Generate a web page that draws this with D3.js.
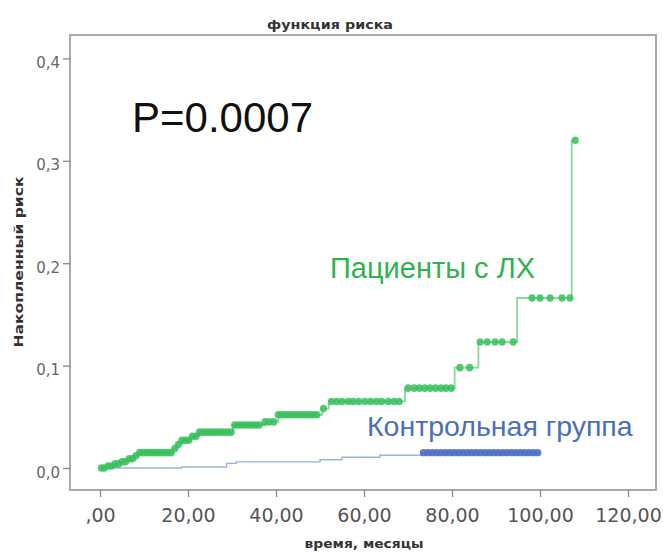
<!DOCTYPE html>
<html>
<head>
<meta charset="utf-8">
<script src="https://cdn.jsdelivr.net/npm/d3@7"></script>
<style>
  html, body { margin: 0; padding: 0; background: #fff; }
  svg { display: block; }
</style>
</head>
<body>
<svg id="chart" width="663" height="552"></svg>
<script>
// Cumulative hazard: step points [time in months, cumulative risk]
const patientSteps = [
  [0, 0.000], [1.5, 0.002], [3, 0.004], [4.5, 0.006], [6, 0.009], [7.5, 0.012],
  [8.7, 0.015], [16.7, 0.019], [17.6, 0.023], [18.6, 0.027], [20.5, 0.031],
  [22.5, 0.035], [30.2, 0.042], [37.5, 0.045], [40.5, 0.052], [50.5, 0.058],
  [52.0, 0.065], [69.3, 0.078], [80.6, 0.098], [86.0, 0.123], [94.8, 0.166],
  [107.2, 0.320], [108.0, 0.320]
];
const controlSteps = [
  [0, 0.000], [18.6, 0.001], [28.8, 0.0045], [31.0, 0.006], [50.0, 0.008],
  [55.0, 0.0105], [63.6, 0.0125], [73.0, 0.015], [99.8, 0.015]
];

// Censored observation times
const patientCensored = [
  0.3, 1.0, 1.8, 2.6, 3.4, 4.2, 5.0, 5.8, 6.6, 7.4, 8.2, 9.0, 9.8, 10.6, 11.4,
  12.2, 13.0, 13.8, 14.6, 15.4, 16.2, 17.0, 17.8, 18.6, 19.4, 20.2, 21.0, 21.8,
  22.6, 23.4, 24.2, 25.0, 25.8, 26.6, 27.4, 28.2, 29.0, 29.8, 30.6, 31.4, 32.2,
  33.0, 33.8, 34.6, 35.4, 36.2, 37.5, 38.5, 39.5, 40.5, 41.3, 42.1, 42.9, 43.7,
  44.5, 45.3, 46.1, 46.9, 47.7, 48.5, 49.3, 50.8, 52.6, 53.8, 55.0, 56.4, 57.5,
  58.8, 60.2, 61.5, 62.8, 64.0, 65.5, 66.8, 68.0, 70.0, 71.4, 72.6, 73.8, 75.0,
  76.3, 77.5, 78.6, 79.8, 81.8, 84.0, 86.4, 88.0, 89.8, 91.4, 93.9, 98.2, 100.0,
  102.3, 105.0, 106.8, 108.0
];
const controlCensored = [
  73.5, 74.5, 75.5, 76.5, 77.5, 78.5, 79.5, 80.5, 81.5, 82.5, 83.5, 84.5, 85.5,
  86.5, 87.5, 88.5, 89.5, 90.5, 91.5, 92.5, 93.5, 94.5, 95.5, 96.5, 97.5, 98.5, 99.5
];

const xTicks = [0, 20, 40, 60, 80, 100, 120];
const yTicks = [0, 0.1, 0.2, 0.3, 0.4];

const chartTitle = "функция риска";
const xTitle = "время, месяцы";
const yTitle = "Накопленный риск";
const pLabel = "P=0.0007";
const patientLabel = "Пациенты с ЛХ";
const controlLabel = "Контрольная группа";

const svg = d3.select("#chart");
const frame = { left: 70, top: 35, right: 656, bottom: 490 };

const x = d3.scaleLinear().domain([0, 120]).range([100, 628]);
const y = d3.scaleLinear().domain([0, 0.4]).range([468, 58.4]);

const fmtX = d => d === 0 ? ",00" : d3.format(".2f")(d).replace(".", ",");
const fmtY = d => d3.format(".1f")(d).replace(".", ",");

// Plot frame
svg.append("rect")
  .attr("x", frame.left).attr("y", frame.top)
  .attr("width", frame.right - frame.left).attr("height", frame.bottom - frame.top)
  .attr("fill", "none").attr("stroke", "#a9a9a9").attr("stroke-width", 2);

// Axes
const xAxis = svg.append("g")
  .attr("transform", `translate(0,${frame.bottom})`)
  .call(d3.axisBottom(x).tickValues(xTicks).tickFormat(fmtX).tickSize(7).tickPadding(12));
xAxis.select(".domain").remove();
xAxis.selectAll(".tick line").attr("stroke", "#888").attr("stroke-width", 1.3);
xAxis.selectAll(".tick text")
  .attr("font-family", "DejaVu Sans").attr("font-size", 19).attr("fill", "#555");

const yAxis = svg.append("g")
  .attr("transform", `translate(${frame.left},0)`)
  .call(d3.axisLeft(y).tickValues(yTicks).tickFormat(fmtY).tickSize(7).tickPadding(3));
yAxis.select(".domain").remove();
yAxis.selectAll(".tick line").attr("stroke", "#888").attr("stroke-width", 1.3);
yAxis.selectAll(".tick text")
  .attr("font-family", "DejaVu Sans").attr("font-size", 15).attr("fill", "#666")
  .attr("dy", "0.6em");

// Titles
svg.append("text")
  .attr("x", 330).attr("y", 29).attr("text-anchor", "middle")
  .attr("font-family", "DejaVu Sans").attr("font-weight", "bold").attr("font-size", 12)
  .attr("fill", "#333").attr("textLength", 126).attr("lengthAdjust", "spacingAndGlyphs")
  .text(chartTitle);
svg.append("text")
  .attr("x", 364).attr("y", 548).attr("text-anchor", "middle")
  .attr("font-family", "DejaVu Sans").attr("font-weight", "bold").attr("font-size", 12)
  .attr("fill", "#333").attr("textLength", 119).attr("lengthAdjust", "spacingAndGlyphs")
  .text(xTitle);
svg.append("text")
  .attr("transform", "translate(23,262) rotate(-90)").attr("text-anchor", "middle")
  .attr("font-family", "DejaVu Sans").attr("font-weight", "bold").attr("font-size", 12.5)
  .attr("fill", "#333").attr("textLength", 171).attr("lengthAdjust", "spacingAndGlyphs")
  .text(yTitle);

// Step curves
const stepLine = d3.line().x(d => x(d[0])).y(d => y(d[1])).curve(d3.curveStepAfter);

// value of a step function at time t
const valueAt = (steps, t) => {
  let v = steps[0][1];
  for (const s of steps) { if (s[0] <= t) v = s[1]; }
  return v;
};

svg.append("path").datum(controlSteps)
  .attr("d", stepLine).attr("fill", "none")
  .attr("stroke", "#9fb1e4").attr("stroke-width", 1.4);

svg.append("path").datum(patientSteps)
  .attr("d", stepLine).attr("fill", "none")
  .attr("stroke", "#8ad89c").attr("stroke-width", 1.8);

// Censor marks
svg.append("g").selectAll("ellipse").data(controlCensored).join("ellipse")
  .attr("cx", d => x(d)).attr("cy", d => y(valueAt(controlSteps, d)))
  .attr("rx", 3.6).attr("ry", 3.6)
  .attr("fill", "#4d6dc8").attr("fill-opacity", 0.9);

svg.append("g").selectAll("ellipse").data(patientCensored).join("ellipse")
  .attr("cx", d => x(d)).attr("cy", d => y(valueAt(patientSteps, d)))
  .attr("rx", 3.6).attr("ry", 3.8)
  .attr("fill", "#36bf5b").attr("fill-opacity", 0.85);

// Annotations
svg.append("text")
  .attr("x", 132).attr("y", 132)
  .attr("font-family", "Liberation Sans, Arial, sans-serif").attr("font-size", 42)
  .attr("fill", "#111").text(pLabel);
svg.append("text")
  .attr("x", 330).attr("y", 278)
  .attr("font-family", "Liberation Sans, Arial, sans-serif").attr("font-size", 29)
  .attr("fill", "#2fb24f").text(patientLabel);
svg.append("text")
  .attr("x", 367).attr("y", 436)
  .attr("font-family", "Liberation Sans, Arial, sans-serif").attr("font-size", 28.5)
  .attr("fill", "#4a70b8").text(controlLabel);
</script>
</body>
</html>
